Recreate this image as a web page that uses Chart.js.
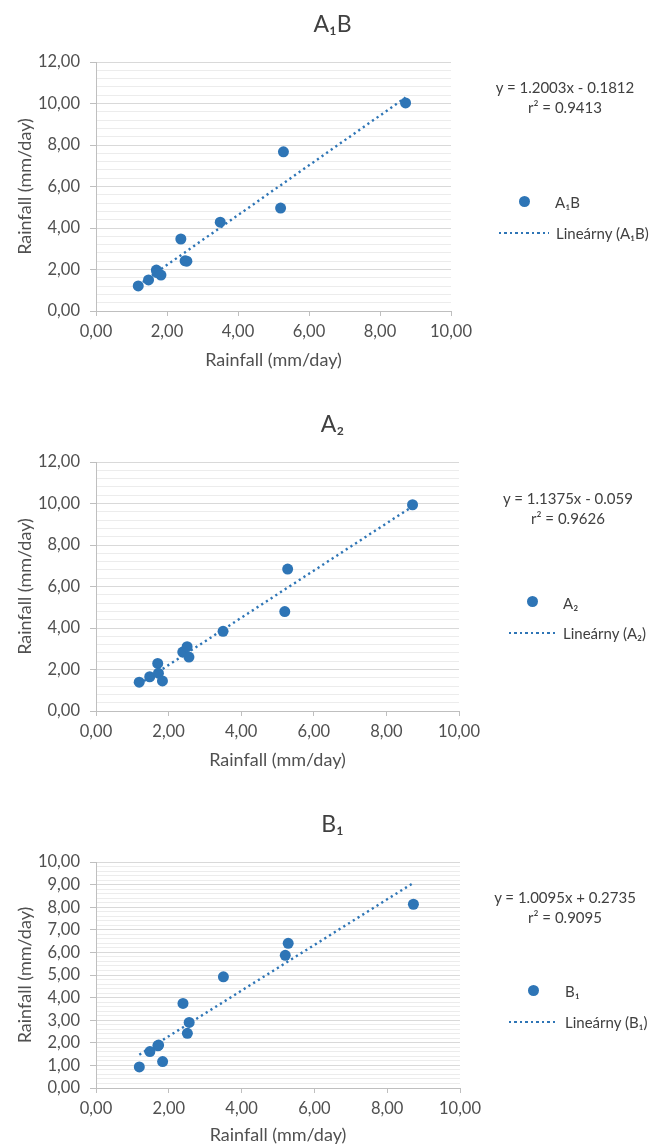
<!DOCTYPE html>
<html>
<head>
<meta charset="utf-8">
<script src="https://cdn.jsdelivr.net/npm/chart.js@4.4.1/dist/chart.umd.min.js"></script>
<style>
    body { margin: 0; width: 665px; height: 1145px; overflow: hidden; background: #fff; font-family: Lato, "Open Sans", sans-serif; color: #404040; }
    .box { position: absolute; left: 0; width: 665px; }
    .eq { position: absolute; width: 200px; text-align: center; font-size: 15px; line-height: 20px; }
    .lbl { position: absolute; font-size: 15px; line-height: 20px; white-space: nowrap; }
    .dot { position: absolute; width: 11px; height: 11px; border-radius: 50%; background: #2e75b6; }
    .dash { position: absolute; height: 2px; background: repeating-linear-gradient(to right, #2e75b6 0 2.2px, transparent 2.2px 5.5px); }
</style>
</head>
<body>
<div class="box" style="top:0;height:380px"><canvas id="c1"></canvas></div>
<div class="box" style="top:400px;height:380px"><canvas id="c2"></canvas></div>
<div class="box" style="top:800px;height:355px"><canvas id="c3"></canvas></div>

<!-- A1B legend -->
<div class="eq" style="left:465px;top:77px">y = 1.2003x - 0.1812<br>r² = 0.9413</div>
<div class="dot" style="left:519px;top:196px"></div>
<div class="lbl" style="left:555px;top:192px">A₁B</div>
<div class="dash" style="left:499px;top:232px;width:50px"></div>
<div class="lbl" style="left:556px;top:223px">Lineárny (A₁B)</div>

<!-- A2 legend -->
<div class="eq" style="left:468px;top:488px">y = 1.1375x - 0.059<br>r² = 0.9626</div>
<div class="dot" style="left:527px;top:596px"></div>
<div class="lbl" style="left:563px;top:593px">A₂</div>
<div class="dash" style="left:509px;top:632px;width:49px"></div>
<div class="lbl" style="left:563px;top:623px">Lineárny (A₂)</div>

<!-- B1 legend -->
<div class="eq" style="left:465px;top:887px">y = 1.0095x + 0.2735<br>r² = 0.9095</div>
<div class="dot" style="left:528px;top:985px"></div>
<div class="lbl" style="left:565px;top:981px">B₁</div>
<div class="dash" style="left:509px;top:1021px;width:48px"></div>
<div class="lbl" style="left:565px;top:1012px">Lineárny (B₁)</div>

<script>
(function() {
    'use strict';

    // observed rainfall (x) shared by the three scenarios
    var observed = [1.19, 1.48, 1.70, 1.72, 1.83, 2.39, 2.51, 2.56, 3.50, 5.20, 5.28, 8.72];
    var a1b = [1.21, 1.50, 1.97, 1.85, 1.73, 3.47, 2.42, 2.40, 4.28, 4.96, 7.67, 10.03];
    var a2 = [1.39, 1.65, 2.29, 1.82, 1.45, 2.84, 3.10, 2.60, 3.84, 4.79, 6.84, 9.94];
    var b1 = [0.93, 1.61, 1.87, 1.90, 1.17, 3.74, 2.42, 2.90, 4.92, 5.87, 6.40, 8.13];

    // trendline coefficients as printed on the chart
    var slopes = [1.2003, 1.1375, 1.0095];
    var intercepts = [-0.1812, -0.059, 0.2735];

    var titles = ['A₁B', 'A₂', 'B₁'];
    var yMax = [12, 12, 10];
    var yMajor = [2, 2, 1];
    var yMinor = [0.4, 0.4, 0.2];

    var blue = '#2e75b6';
    var axisText = '#505050';

    Chart.defaults.font.family = 'Lato, "Open Sans", sans-serif';
    Chart.defaults.color = axisText;

    var fmt = function(v) {
        return v.toFixed(2).replace('.', ',');
    };

    var makeChart = function(id, idx, ys, rightW, xAxisH) {
        var pts = observed.map(function(x, i) { return {x: x, y: ys[i]}; });
        var xmin = Math.min.apply(null, observed);
        var xmax = Math.max.apply(null, observed);
        var trend = [
            {x: xmin, y: slopes[idx] * xmin + intercepts[idx]},
            {x: xmax, y: slopes[idx] * xmax + intercepts[idx]}
        ];
        var major = yMajor[idx];
        var isMajor = function(v) {
            return Math.abs(v / major - Math.round(v / major)) < 1e-6;
        };

        return new Chart(document.getElementById(id), {
            type: 'scatter',
            data: {
                datasets: [{
                    label: titles[idx],
                    data: pts,
                    backgroundColor: blue,
                    borderWidth: 0,
                    pointRadius: 5.5,
                    pointHoverRadius: 5.5,
                    order: 0
                },
                {
                    label: 'Lineárny (' + titles[idx] + ')',
                    type: 'line',
                    data: trend,
                    borderColor: blue,
                    borderWidth: 2.4,
                    borderDash: [2.2, 3.4],
                    pointRadius: 0,
                    fill: false,
                    order: 1
                }]
            },
            options: {
                responsive: true,
                maintainAspectRatio: false,
                animation: false,
                layout: { padding: 0 },
                plugins: {
                    legend: { display: false },
                    tooltip: { enabled: false },
                    title: {
                        display: true,
                        text: titles[idx],
                        color: '#404040',
                        font: { size: 23, weight: 'normal' },
                        padding: { top: 11.2, bottom: 23.2 }
                    }
                },
                scales: {
                    x: {
                        type: 'linear',
                        min: 0,
                        max: 10,
                        afterFit: function(s) { s.height = xAxisH; },
                        ticks: {
                            stepSize: 2,
                            padding: 6,
                            font: { size: 16.5 },
                            callback: function(v) { return fmt(v); }
                        },
                        grid: { drawOnChartArea: false, color: '#bfbfbf', tickLength: 5 },
                        border: { color: '#bfbfbf' },
                        title: {
                            display: true,
                            text: 'Rainfall (mm/day)',
                            font: { size: 18 },
                            padding: { top: 0, bottom: 9.2 }
                        }
                    },
                    y: {
                        type: 'linear',
                        min: 0,
                        max: yMax[idx],
                        afterFit: function(s) { s.width = 96; },
                        ticks: {
                            stepSize: yMinor[idx],
                            autoSkip: false,
                            padding: 10,
                            font: { size: 16.5 },
                            callback: function(v) { return isMajor(v) ? fmt(v) : ''; }
                        },
                        grid: {
                            tickLength: 6,
                            color: function(c) {
                                if (c.tick && c.tick.value === 0) return '#bfbfbf';
                                return c.tick && isMajor(c.tick.value) ? '#d9d9d9' : '#ececec';
                            },
                            tickColor: function(c) {
                                return c.tick && isMajor(c.tick.value) ? '#bfbfbf' : 'rgba(0,0,0,0)';
                            }
                        },
                        border: { color: '#bfbfbf' },
                        title: {
                            display: true,
                            text: 'Rainfall (mm/day)',
                            font: { size: 18 },
                            padding: { top: 14.2, bottom: 0 }
                        }
                    },
                    // empty box on the right that keeps room for the legend
                    side: {
                        type: 'linear',
                        position: 'right',
                        min: 0,
                        max: 1,
                        afterFit: function(s) { s.width = rightW; },
                        ticks: { display: false },
                        grid: { display: false },
                        border: { display: false }
                    }
                }
            }
        });
    };

    makeChart('c1', 0, a1b, 214, 69);
    makeChart('c2', 1, a2, 206, 69);
    makeChart('c3', 2, b1, 205, 67);
})();
</script>
</body>
</html>
